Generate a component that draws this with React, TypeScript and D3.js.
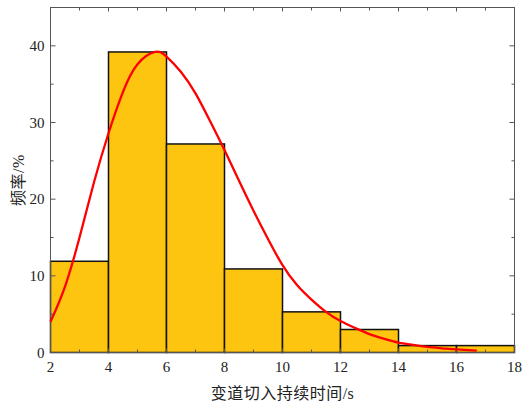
import React, { useEffect, useRef } from 'react';
import * as d3 from 'd3';

// histogram bins (lower edge, upper edge) and frequency in %
const binStarts = [2, 4, 6, 8, 10, 12, 14, 16];
const binEnds = [4, 6, 8, 10, 12, 14, 16, 18];
const frequency = [11.9, 39.2, 27.2, 10.9, 5.3, 3.0, 0.9, 0.9];

// fitted curve
const curveX = [2, 2.5, 3, 3.5, 4, 4.5, 5, 5.6, 6, 6.5, 7, 7.5, 8, 8.5, 9, 9.5, 10, 10.5, 11, 11.5, 12, 12.5, 13, 13.5, 14, 14.5, 15, 15.5, 16, 16.7];
const curveY = [4.0, 8.6, 15, 22.2, 28.6, 34, 37.6, 39.2, 38.6, 36.6, 33.8, 30.2, 26.4, 22.4, 18.5, 14.8, 11.4, 8.8, 6.9, 5.3, 4.1, 3.2, 2.4, 1.8, 1.3, 1.0, 0.72, 0.55, 0.4, 0.25];

const xTicks = [2, 4, 6, 8, 10, 12, 14, 16, 18];
const yTicks = [0, 10, 20, 30, 40];

const W = 529;
const H = 406;
const m = { left: 50.5, top: 7.5, right: 514.5, bottom: 352.5 };

const serif = '"Liberation Serif", "DejaVu Serif", serif';
const cjk = '"Liberation Serif", "Noto Sans CJK SC", serif';

const App = () => {
  const svgRef = useRef<SVGSVGElement>(null);

  useEffect(() => {
    const svg = d3.select(svgRef.current);
    svg.selectAll('*').remove();

    const x = d3.scaleLinear().domain([2, 18]).range([m.left, m.right]);
    const y = d3.scaleLinear().domain([0, 45]).range([m.bottom, m.top]);

    const bins = frequency.map((f, i) => ({ x0: binStarts[i], x1: binEnds[i], f }));

    svg.append('g')
      .selectAll('rect')
      .data(bins)
      .enter()
      .append('rect')
      .attr('x', d => x(d.x0))
      .attr('y', d => y(d.f))
      .attr('width', d => x(d.x1) - x(d.x0))
      .attr('height', d => y(0) - y(d.f))
      .attr('fill', '#FEC510')
      .attr('stroke', '#111')
      .attr('stroke-width', 1.5);

    // frame
    const axisColor = '#555';
    svg.append('rect')
      .attr('x', m.left)
      .attr('y', m.top)
      .attr('width', m.right - m.left)
      .attr('height', m.bottom - m.top)
      .attr('fill', 'none')
      .attr('stroke', axisColor)
      .attr('stroke-width', 1);

    const xMinor = d3.range(3, 18, 2);
    const yMinor = d3.range(5, 45, 10);
    const tk = svg.append('g').attr('stroke', axisColor).attr('stroke-width', 1);

    const addX = (vals: number[], len: number) => {
      vals.forEach(v => {
        tk.append('line').attr('x1', x(v)).attr('x2', x(v)).attr('y1', m.bottom).attr('y2', m.bottom - len);
        tk.append('line').attr('x1', x(v)).attr('x2', x(v)).attr('y1', m.top).attr('y2', m.top + len);
      });
    };
    const addY = (vals: number[], len: number) => {
      vals.forEach(v => {
        tk.append('line').attr('y1', y(v)).attr('y2', y(v)).attr('x1', m.left).attr('x2', m.left + len);
        tk.append('line').attr('y1', y(v)).attr('y2', y(v)).attr('x1', m.right).attr('x2', m.right - len);
      });
    };
    addX(xTicks, 4);
    addX(xMinor, 3);
    addY(yTicks, 5);
    addY(yMinor, 3);

    svg.append('g')
      .selectAll('text')
      .data(xTicks)
      .enter()
      .append('text')
      .attr('x', d => x(d))
      .attr('y', 372)
      .attr('text-anchor', 'middle')
      .style('font-family', serif)
      .style('font-size', '15px')
      .style('fill', '#222')
      .text(d => d);

    svg.append('g')
      .selectAll('text')
      .data(yTicks)
      .enter()
      .append('text')
      .attr('x', 44.5)
      .attr('y', d => y(d) + 5)
      .attr('text-anchor', 'end')
      .style('font-family', serif)
      .style('font-size', '15px')
      .style('fill', '#222')
      .text(d => d);

    // fitted curve
    const pts = curveX.map((v, i) => [v, curveY[i]] as [number, number]);
    const line = d3.line<[number, number]>()
      .x(d => x(d[0]))
      .y(d => y(d[1]))
      .curve(d3.curveNatural);
    svg.append('path')
      .attr('d', line(pts))
      .attr('fill', 'none')
      .attr('stroke', '#FF0000')
      .attr('stroke-width', 2.3);

    svg.append('text')
      .attr('x', (m.left + m.right) / 2)
      .attr('y', 399)
      .attr('text-anchor', 'middle')
      .style('font-family', cjk)
      .style('font-size', '16px')
      .style('letter-spacing', '0.5px')
      .style('fill', '#222')
      .text('变道切入持续时间/s');

    svg.append('text')
      .attr('transform', `translate(24, ${y(22.5)}) rotate(-90)`)
      .attr('text-anchor', 'middle')
      .style('font-family', cjk)
      .style('font-size', '16px')
      .style('letter-spacing', '0.5px')
      .style('fill', '#222')
      .text('频率/%');
  }, []);

  return (
    <svg ref={svgRef} width={W} height={H} style={{ position: 'absolute', left: 0, top: 0, background: '#fff' }} />
  );
};

export default App;
